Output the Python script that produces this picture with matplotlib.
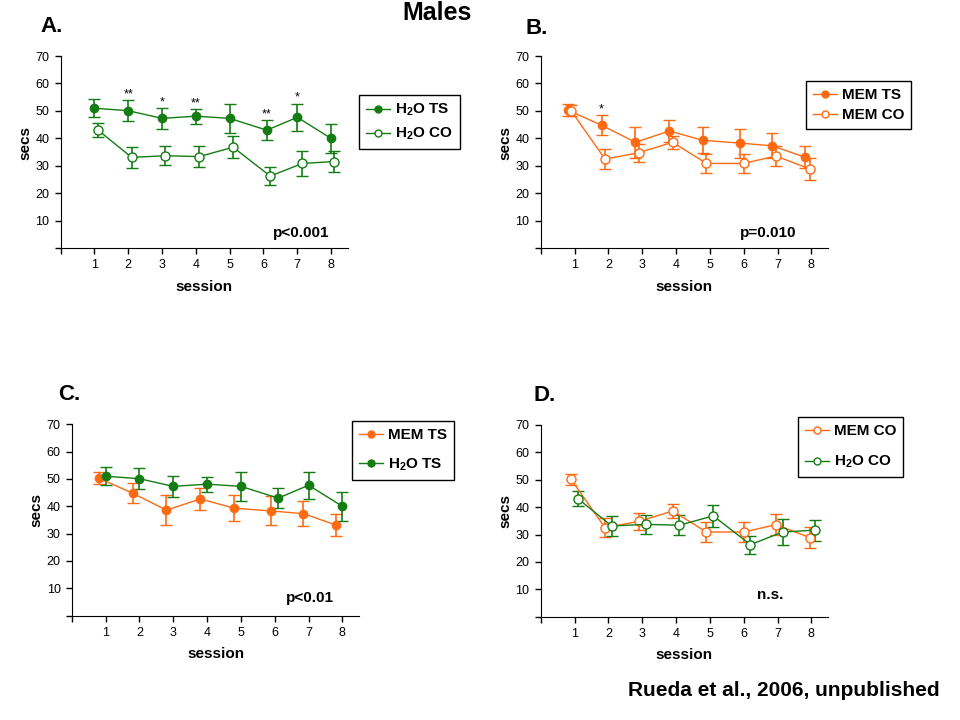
import matplotlib
matplotlib.use('Agg')
import matplotlib.pyplot as plt
from matplotlib.lines import Line2D
import numpy as np

plt.rcParams['font.family'] = ['Liberation Sans', 'DejaVu Sans']
plt.rcParams['mathtext.fontset'] = 'custom'
plt.rcParams['mathtext.rm'] = 'Liberation Sans:bold'
plt.rcParams['mathtext.bf'] = 'Liberation Sans:bold'
plt.rcParams['mathtext.default'] = 'bf'

# data (mean secs per session, +/- SEM)
sessions = np.arange(1, 9)
h2o_ts = [51.0, 50.1, 47.3, 48.1, 47.3, 43.0, 47.7, 40.0]
h2o_ts_err = [3.2, 3.8, 3.8, 2.7, 5.3, 3.6, 5.0, 5.3]
h2o_co = [43.1, 33.1, 33.7, 33.4, 36.8, 26.3, 30.9, 31.6]
h2o_co_err = [2.7, 3.8, 3.4, 3.7, 4.1, 3.3, 4.6, 3.8]
mem_ts = [50.3, 44.8, 38.6, 42.7, 39.3, 38.3, 37.3, 33.2]
mem_ts_err = [2.1, 3.6, 5.6, 3.9, 4.7, 5.3, 4.5, 4.0]
mem_co = [50.1, 32.5, 34.8, 38.6, 30.9, 30.9, 33.6, 28.9]
mem_co_err = [2.0, 3.5, 3.2, 2.4, 3.6, 3.5, 3.8, 4.0]

sig_a = ['', '**', '*', '**', '', '**', '*', '']
sig_b = ['', '*', '', '', '', '', '', '']

GREEN = '#137d13'
ORANGE = '#ff6a12'

# small horizontal dodge per series, as in the original
dodge = {
    'h2o_ts': [0, 0, 0, 0, 0, 0.1, 0, 0],
    'h2o_co': [0.1, 0.1, 0.1, 0.1, 0.1, 0.2, 0.15, 0.1],
    'mem_ts': [-0.2, -0.2, -0.2, -0.2, -0.2, -0.1, -0.15, -0.2],
    'mem_co': [-0.1, -0.1, -0.1, -0.1, -0.1, 0, -0.05, -0.05],
}

series = {
    'h2o_ts': (h2o_ts, h2o_ts_err, GREEN, True, r'H$_2$O TS'),
    'h2o_co': (h2o_co, h2o_co_err, GREEN, False, r'H$_2$O CO'),
    'mem_ts': (mem_ts, mem_ts_err, ORANGE, True, 'MEM TS'),
    'mem_co': (mem_co, mem_co_err, ORANGE, False, 'MEM CO'),
}


def draw(ax, key):
    y, err, color, filled, label = series[key]
    x = sessions + np.array(dodge[key])
    ax.errorbar(x, y, yerr=err, color=color, lw=1.0, elinewidth=1.2, capsize=4, capthick=1.2,
                marker='o', ms=6 if filled else 6.5, mfc=color if filled else 'white',
                mec=color, mew=1.0, zorder=3)
    return Line2D([], [], color=color, lw=1.0, marker='o', ms=5,
                  mfc=color if filled else 'white', mec=color, mew=1.0, label=label)


def style(ax):
    ax.set_xlim(0, 8.5)
    ax.set_ylim(0, 70)
    ax.spines['top'].set_visible(False)
    ax.spines['right'].set_visible(False)
    ax.set_xticks(range(0, 9))
    ax.set_xticklabels([''] + [str(s) for s in sessions], fontsize=9)
    ax.set_yticks(range(0, 71, 10))
    ax.set_yticklabels([''] + [str(v) for v in range(10, 71, 10)], fontsize=9)
    ax.tick_params(length=4, width=1, pad=4)
    ax.text(0.5, -0.2, 'session', transform=ax.transAxes, ha='center', va='center',
            fontsize=11, fontweight='bold')
    ax.text(-0.124, 0.55, 'secs', transform=ax.transAxes, ha='center', va='center',
            rotation=90, fontsize=11, fontweight='bold')


def legend(ax, handles, x0, y0, spacing):
    leg = ax.legend(handles=handles, loc='upper left', bbox_to_anchor=(x0 / 960, 1 - y0 / 720),
                    bbox_transform=fig.transFigure, frameon=True, fancybox=False,
                    edgecolor='black', framealpha=1, handlelength=1.6,
                    handletextpad=0.3, labelspacing=spacing, borderpad=0.45,
                    borderaxespad=0, prop={'weight': 'bold', 'size': 11})
    leg.get_frame().set_linewidth(1.0)


fig = plt.figure(figsize=(9.6, 7.2), dpi=100)
ax_a = fig.add_axes([0.0632, 0.6551, 0.2993, 0.2671])
ax_b = fig.add_axes([0.5632, 0.6551, 0.2996, 0.2671])
ax_c = fig.add_axes([0.0747, 0.1449, 0.2996, 0.2658])
ax_d = fig.add_axes([0.5632, 0.1435, 0.2996, 0.2663])

# A: water, TS vs CO
hs = [draw(ax_a, 'h2o_ts'), draw(ax_a, 'h2o_co')]
style(ax_a)
for s, mark, yv, e in zip(sessions + np.array(dodge['h2o_ts']), sig_a, h2o_ts, h2o_ts_err):
    if mark:
        ax_a.text(s, yv + e + 1.0, mark, ha='center', va='baseline', fontsize=9)
ax_a.text(7.12, 5.6, 'p<0.001', ha='center', va='center', fontsize=11, fontweight='bold')
legend(ax_a, hs, 359, 95, 0.5)

# B: memantine, TS vs CO
hs = [draw(ax_b, 'mem_ts'), draw(ax_b, 'mem_co')]
style(ax_b)
for s, mark, yv, e in zip(sessions + np.array(dodge['mem_ts']), sig_b, mem_ts, mem_ts_err):
    if mark:
        ax_b.text(s, yv + e + 1.0, mark, ha='center', va='baseline', fontsize=9)
ax_b.text(6.71, 5.7, 'p=0.010', ha='center', va='center', fontsize=11, fontweight='bold')
legend(ax_b, hs, 806, 81, 0.4)

# C: TS, memantine vs water
hs = [draw(ax_c, 'mem_ts'), draw(ax_c, 'h2o_ts')]
style(ax_c)
ax_c.text(7.03, 6.6, 'p<0.01', ha='center', va='center', fontsize=11, fontweight='bold')
legend(ax_c, hs, 352, 421, 0.95)

# D: CO, memantine vs water
hs = [draw(ax_d, 'mem_co'), draw(ax_d, 'h2o_co')]
style(ax_d)
ax_d.text(6.78, 7.9, 'n.s.', ha='center', va='center', fontsize=11, fontweight='bold')
legend(ax_d, hs, 798, 417, 1.05)

fig.text(437 / 960, 1 - 13 / 720, 'Males', ha='center', va='center', fontsize=18, fontweight='bold')
fig.text(52 / 960, 1 - 27 / 720, 'A.', ha='center', va='center', fontsize=16, fontweight='bold')
fig.text(537 / 960, 1 - 28 / 720, 'B.', ha='center', va='center', fontsize=16, fontweight='bold')
fig.text(69 / 960, 1 - 394 / 720, 'C.', ha='center', va='center', fontsize=16, fontweight='bold')
fig.text(545 / 960, 1 - 395 / 720, 'D.', ha='center', va='center', fontsize=16, fontweight='bold')
fig.text(940 / 960, 1 - 690 / 720, 'Rueda et al., 2006, unpublished', ha='right', va='center',
         fontsize=15, fontweight='bold')

fig.savefig('out.png', dpi=100)
